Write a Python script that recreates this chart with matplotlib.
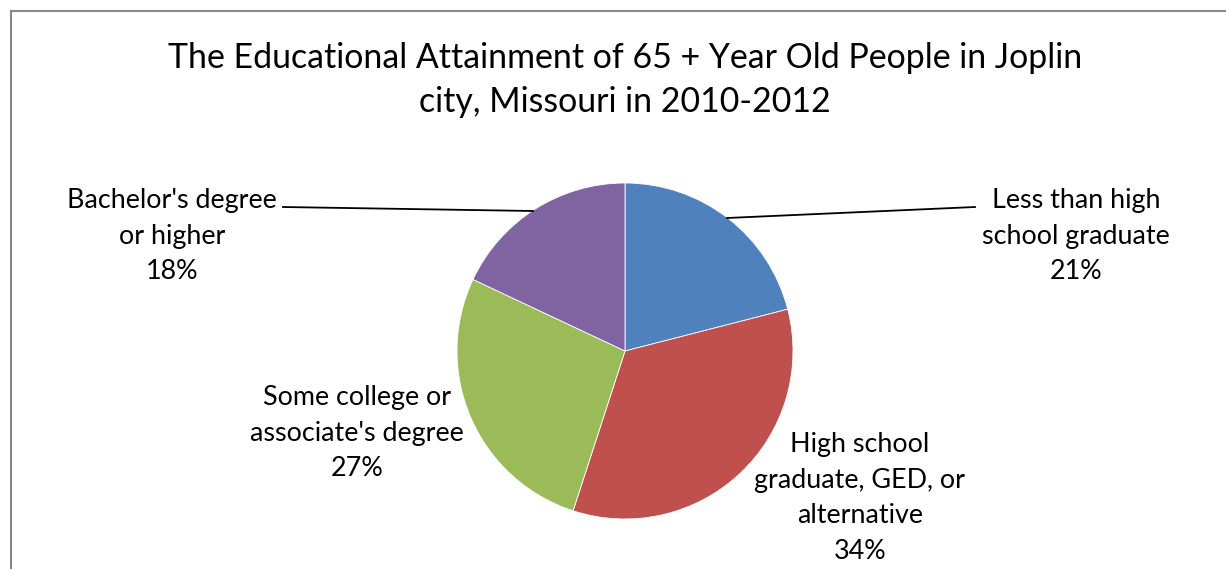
import matplotlib.pyplot as plt
from matplotlib.lines import Line2D

# data
categories = ["Less than high\nschool graduate",
              "High school\ngraduate, GED, or\nalternative",
              "Some college or\nassociate's degree",
              "Bachelor's degree\nor higher"]
shares = [21, 34, 27, 18]
colors = ["#4F81BD", "#C0504D", "#9BBB59", "#8064A2"]
title = "The Educational Attainment of 65 + Year Old People in Joplin\ncity, Missouri in 2010-2012"

plt.rcParams['font.family'] = ['Lato', 'DejaVu Sans']

W, H = 1226, 569
fig = plt.figure(figsize=(W / 100, H / 100), dpi=100)
ax = fig.add_axes([0, 0, 1, 1])

# pie in pixel coordinates (y measured from bottom)
cx, cy, r = 625, H - 351, 168
ax.pie(shares, colors=colors, startangle=90, counterclock=False,
       center=(cx, cy), radius=r, frame=True,
       wedgeprops=dict(edgecolor='white', linewidth=0.6))
ax.set_xlim(0, W)
ax.set_ylim(0, H)
ax.set_aspect('equal')
ax.axis('off')

ax.text(625, H - 80, title, ha='center', va='center', fontsize=24.4,
        linespacing=1.45)

# labels
label_pos = [(1076, 236), (860, 498), (357, 433), (172, 236)]
for cat, s, (lx, ly) in zip(categories, shares, label_pos):
    ax.text(lx, H - ly, f"{cat}\n{s}%", ha='center', va='center',
            fontsize=19.4, linespacing=1.54)

# leader lines
ax.plot([727, 975], [H - 218, H - 207], color='black', lw=1.3)
ax.plot([533, 283], [H - 211, H - 207], color='black', lw=1.3)

# chart border (left and top)
fig.add_artist(Line2D([10.5 / W, 10.5 / W], [0, 1 - 11 / H], color='#888888', lw=1.5,
                      transform=fig.transFigure))
fig.add_artist(Line2D([10.5 / W, 1], [1 - 11 / H, 1 - 11 / H], color='#888888', lw=1.5,
                      transform=fig.transFigure))

fig.savefig('out.png', dpi=100, facecolor='white')
